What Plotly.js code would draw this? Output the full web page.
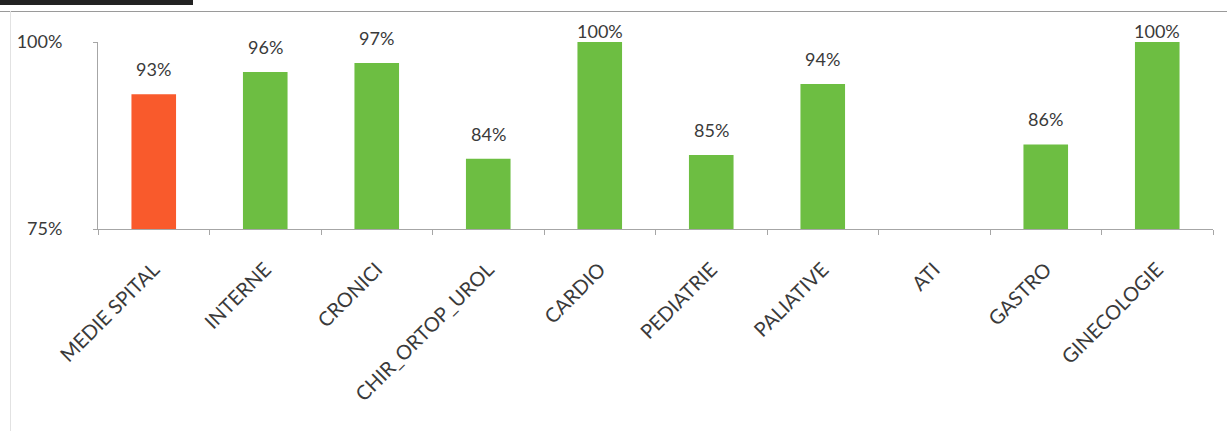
<!DOCTYPE html>
<html>
<head>
<meta charset="utf-8">
<script src="https://cdn.plot.ly/plotly-3.0.1.min.js"></script>
<style>
  html, body { margin: 0; padding: 0; background: #fff; }
  #wrap { position: relative; width: 1227px; height: 431px; overflow: hidden; }
  #chart { position: absolute; left: 0; top: 0; width: 1227px; height: 431px; }
  .topbar { position: absolute; left: 0; top: 0; width: 193px; height: 5px; background: #222; }
  .topline { position: absolute; left: 0; top: 11px; width: 1227px; height: 1px; background: #9a9a9a; }
  .leftline { position: absolute; left: 10px; top: 11px; width: 1px; height: 420px; background: #e2e2e2; }
</style>
</head>
<body>
<div id="wrap">
  <div id="chart"></div>
  <div class="topbar"></div>
  <div class="topline"></div>
  <div class="leftline"></div>
</div>
<script>
const categories = ["MEDIE SPITAL", "INTERNE", "CRONICI", "CHIR_ORTOP_UROL", "CARDIO", "PEDIATRIE", "PALIATIVE", "ATI", "GASTRO", "GINECOLOGIE"];
const values = [93, 96, 97.2, 84.4, 100, 84.9, 94.4, null, 86.3, 100];
const labels = ["93%", "96%", "97%", "84%", "100%", "85%", "94%", "", "86%", "100%"];
const yTickVals = [75, 100];
const yTickText = ["75%", "100%"];

const FONT = "Lato, 'Open Sans', sans-serif";
const TEXT = "#3a3a3a";
const colors = categories.map((c, i) => i === 0 ? "#F95A2C" : "#6DBE42");

const trace = {
  type: "bar",
  x: categories,
  y: values,
  marker: { color: colors },
  hoverinfo: "skip"
};

// Data labels as annotations anchored on each bar's value (Excel clamps labels at the chart top)
const annotations = [];
categories.forEach((c, i) => {
  if (values[i] === null || labels[i] === "") return;
  annotations.push({
    x: c, y: values[i], xref: "x", yref: "y",
    text: labels[i], showarrow: false,
    yanchor: "bottom",
    yshift: values[i] >= 99.5 ? -2 : 12,
    font: { family: FONT, size: 18, color: TEXT }
  });
});

const layout = {
  width: 1227,
  height: 431,
  margin: { l: 98, r: 14, t: 42, b: 202 },
  paper_bgcolor: "#ffffff",
  plot_bgcolor: "#ffffff",
  showlegend: false,
  bargap: 0.6,
  font: { family: FONT, color: TEXT },
  annotations: annotations,
  xaxis: {
    type: "category",
    range: [-0.5, 9.5],
    tickangle: -45,
    ticks: "outside",
    tickson: "boundaries",
    ticklen: 5,
    tickcolor: "#a6a6a6",
    showline: true,
    linecolor: "#a6a6a6",
    linewidth: 1,
    showgrid: false,
    zeroline: false,
    ticklabelstandoff: 20,
    tickfont: { family: FONT, size: 20, color: TEXT }
  },
  yaxis: {
    range: [75, 100],
    tickvals: yTickVals,
    ticktext: yTickText,
    ticks: "outside",
    ticklen: 4,
    tickcolor: "#a6a6a6",
    showline: true,
    linecolor: "#a6a6a6",
    linewidth: 1,
    showgrid: false,
    zeroline: false,
    ticklabelstandoff: 27,
    tickfont: { family: FONT, size: 18, color: TEXT }
  }
};

Plotly.newPlot("chart", [trace], layout, { staticPlot: true, displayModeBar: false });
</script>
</body>
</html>
